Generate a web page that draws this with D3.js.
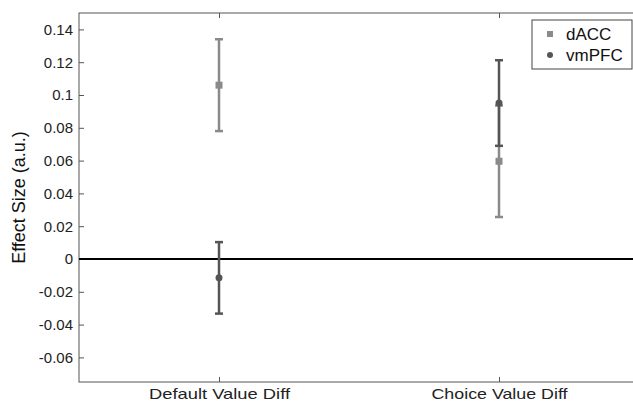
<!DOCTYPE html>
<html lang="en">
<head>
  <meta charset="utf-8">
  <title>Effect Size</title>
  <script src="https://d3js.org/d3.v7.min.js"></script>
  <style>
    body { margin: 0; background: #fff; }
    svg { display: block; font-family: "Liberation Sans", Arial, sans-serif; }
  </style>
</head>
<body>
  <div id="chart"></div>
  <script>
    // data
    const categories = ["Default Value Diff", "Choice Value Diff"];
    const regions = ["dACC", "vmPFC"];
    const dACCMean = [0.106, 0.0596];
    const dACCErr = [0.028, 0.034];
    const vmPFCMean = [-0.0115, 0.0951];
    const vmPFCErr = [0.0218, 0.0261];
    const yTicks = [-0.06, -0.04, -0.02, 0, 0.02, 0.04, 0.06, 0.08, 0.1, 0.12, 0.14];

    const colors = { dACC: "#8a8a8a", vmPFC: "#555555" };

    const W = 633, H = 403;
    const margin = {top: 13, right: -6, bottom: 21, left: 79};
    const width = W - margin.left - margin.right,
          height = H - margin.top - margin.bottom;

    const svg = d3.select("#chart").append("svg")
      .attr("width", W)
      .attr("height", H);

    const g = svg.append("g")
      .attr("transform", "translate(" + margin.left + "," + margin.top + ")");

    // x is a linear scale on category index, 0.5..2.5 like matlab
    const x = d3.scaleLinear()
      .domain([0.5, categories.length + 0.5])
      .range([0, width]);

    const y = d3.scaleLinear()
      .domain([-0.075, 0.15])
      .range([height, 0]);

    const fmt = d => String(+d.toFixed(2));

    // frame
    g.append("rect")
      .attr("width", width)
      .attr("height", height)
      .attr("fill", "none")
      .attr("stroke", "#555")
      .attr("stroke-width", 1);

    // left axis, ticks inside
    const yAxis = g.append("g")
      .call(d3.axisLeft(y).tickValues(yTicks).tickSize(-5).tickPadding(6).tickFormat(fmt));
    yAxis.select(".domain").remove();
    yAxis.selectAll("line").attr("stroke", "#555");
    yAxis.selectAll("text").style("font-size", "15px").attr("fill", "#222");

    // right axis mirror ticks
    const yAxisR = g.append("g")
      .attr("transform", "translate(" + width + ",0)")
      .call(d3.axisRight(y).tickValues(yTicks).tickSize(-5).tickFormat(""));
    yAxisR.select(".domain").remove();
    yAxisR.selectAll("line").attr("stroke", "#555");

    // bottom axis
    const xAxis = g.append("g")
      .attr("transform", "translate(0," + height + ")")
      .call(d3.axisBottom(x).tickValues([1, 2]).tickSize(-5).tickPadding(6.5)
        .tickFormat((d, i) => categories[i]));
    xAxis.select(".domain").remove();
    xAxis.selectAll("line").attr("stroke", "#555");
    xAxis.selectAll("text")
      .style("font-size", "15px")
      .attr("fill", "#222")
      .attr("textLength", (d, i) => i === 0 ? 141 : 136)
      .attr("lengthAdjust", "spacingAndGlyphs");

    // top mirror ticks
    const xAxisT = g.append("g")
      .call(d3.axisTop(x).tickValues([1, 2]).tickSize(-5).tickFormat(""));
    xAxisT.select(".domain").remove();
    xAxisT.selectAll("line").attr("stroke", "#555");

    // zero line
    g.append("line")
      .attr("x1", 0).attr("x2", width)
      .attr("y1", y(0)).attr("y2", y(0))
      .attr("stroke", "#000")
      .attr("stroke-width", 2);

    // y label
    svg.append("text")
      .attr("transform", "translate(25," + (margin.top + y(0.0375)) + ") rotate(-90)")
      .attr("text-anchor", "middle")
      .style("font-size", "18px")
      .attr("fill", "#111")
      .text("Effect Size (a.u.)");

    // error bars
    function drawSeries(name, means, errs, shape) {
      const s = g.append("g").attr("class", name);
      const col = colors[name];
      means.forEach((m, i) => {
        const cx = x(i + 1);
        s.append("line")
          .attr("x1", cx).attr("x2", cx)
          .attr("y1", y(m - errs[i])).attr("y2", y(m + errs[i]))
          .attr("stroke", col).attr("stroke-width", 2.5);
        [m - errs[i], m + errs[i]].forEach(v => {
          s.append("line")
            .attr("x1", cx - 4).attr("x2", cx + 4)
            .attr("y1", y(v)).attr("y2", y(v))
            .attr("stroke", col).attr("stroke-width", 2.5);
        });
        if (shape === "square") {
          s.append("rect")
            .attr("x", cx - 3.5).attr("y", y(m) - 3.5)
            .attr("width", 7).attr("height", 7)
            .attr("fill", col);
        } else {
          s.append("circle")
            .attr("cx", cx).attr("cy", y(m)).attr("r", 3.5)
            .attr("fill", col);
        }
      });
    }
    drawSeries("dACC", dACCMean, dACCErr, "square");
    drawSeries("vmPFC", vmPFCMean, vmPFCErr, "circle");

    // legend
    const legend = svg.append("g").attr("transform", "translate(532,20)");
    legend.append("rect")
      .attr("width", 100).attr("height", 49)
      .attr("fill", "#fff").attr("stroke", "#444");
    regions.forEach((r, i) => {
      const ly = 14 + i * 21;
      if (i === 0) {
        legend.append("rect")
          .attr("x", 15).attr("y", ly - 3).attr("width", 6).attr("height", 6)
          .attr("fill", colors[r]);
      } else {
        legend.append("circle")
          .attr("cx", 18).attr("cy", ly).attr("r", 3)
          .attr("fill", colors[r]);
      }
      legend.append("text")
        .attr("x", 34).attr("y", ly)
        .attr("dy", "0.35em")
        .style("font-size", "17px")
        .attr("fill", "#111")
        .text(r);
    });
  </script>
</body>
</html>
